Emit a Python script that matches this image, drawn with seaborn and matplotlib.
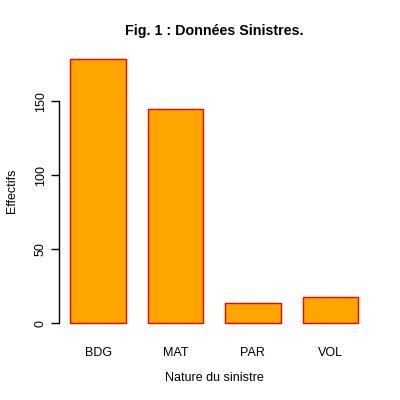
import pandas as pd
import matplotlib
matplotlib.use("Agg")
import matplotlib.pyplot as plt
import seaborn as sns

# Données
categories = ["BDG", "MAT", "PAR", "VOL"]
effectifs = [179, 145, 14, 18]

df = pd.DataFrame({"Nature": categories, "Effectifs": effectifs})

sns.set_style("white")
plt.rcParams["font.family"] = ["Liberation Sans", "DejaVu Sans"]
plt.rcParams["text.color"] = "black"
plt.rcParams["axes.labelcolor"] = "black"
plt.rcParams["xtick.color"] = "black"
plt.rcParams["ytick.color"] = "black"

fig = plt.figure(figsize=(4, 4), dpi=100)
ax = fig.add_axes([0.1483, 0.165, 0.775, 0.715])

sns.barplot(data=df, x="Nature", y="Effectifs", color="#FFA500",
            saturation=1, width=0.716, edgecolor="red", linewidth=1, ax=ax)

ax.set_xlim(-0.5, 3.505)
ax.set_ylim(-7.16, 186.16)

# axe R : seulement la gauche, de 0 à 150
for s in ["top", "right", "bottom"]:
    ax.spines[s].set_visible(False)
ax.spines["left"].set_bounds(0, 150)
ax.spines["left"].set_color("black")
ax.spines["left"].set_linewidth(1)

ax.set_yticks([0, 50, 100, 150])
ax.tick_params(axis="y", left=True, length=6, width=1, color="black",
               labelcolor="black", labelsize=9, pad=3)
for lab in ax.get_yticklabels():
    lab.set_rotation(90)
    lab.set_va("center")
ax.tick_params(axis="x", length=0, labelsize=9, labelcolor="black", pad=9)

ax.set_xlabel("Nature du sinistre", fontsize=9, labelpad=10, color="black")
ax.set_ylabel("Effectifs", fontsize=9, labelpad=12, color="black")
ax.set_title("Fig. 1 : Données Sinistres.", fontsize=10.3, fontweight="bold",
             pad=9, color="black")

fig.savefig("out.png", dpi=100)
